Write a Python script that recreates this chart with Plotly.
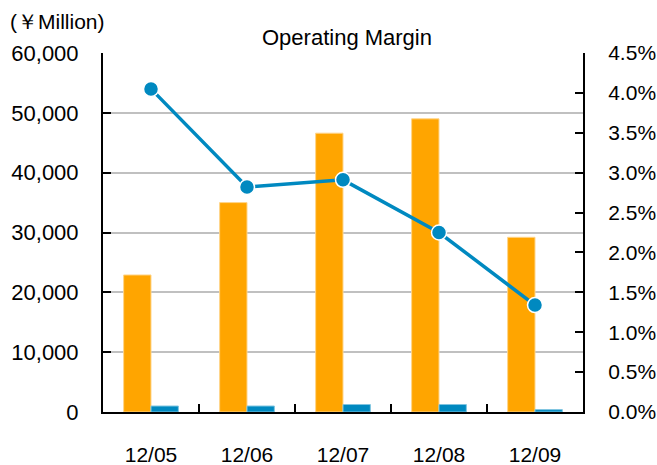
import plotly.graph_objects as go

categories = ["12/05", "12/06", "12/07", "12/08", "12/09"]
net_sales_like = [22900, 35000, 46600, 49000, 29200]
operating_income = [1000, 1000, 1250, 1250, 400]
operating_margin = [4.05, 2.82, 2.91, 2.25, 1.34]

left_ticks = [0, 10000, 20000, 30000, 40000, 50000, 60000]
right_ticks = [0, 0.5, 1.0, 1.5, 2.0, 2.5, 3.0, 3.5, 4.0, 4.5]
right_tick_text = ["0.0%", "0.5%", "1.0%", "1.5%", "2.0%", "2.5%", "3.0%", "3.5%", "4.0%", "4.5%"]

ORANGE = "#FFA500"
BLUE = "#0089C0"
FONT = "Liberation Sans, Arial, sans-serif"

L, R, T, B = 103, 74, 53, 53
W, H = 657, 465
pw = W - L - R
ph = H - T - B

fig = go.Figure()
fig.add_trace(go.Bar(x=categories, y=net_sales_like, marker=dict(color=ORANGE, line=dict(color="#FFD58A", width=1)),
                     showlegend=False))
fig.add_trace(go.Bar(x=categories, y=operating_income, marker=dict(color=BLUE, line=dict(color="#7FC5E0", width=1)),
                     showlegend=False))
fig.add_trace(go.Scatter(x=categories, y=operating_margin, yaxis="y2", mode="lines+markers",
                         line=dict(color=BLUE, width=3.5),
                         marker=dict(size=15, color=BLUE, line=dict(color="white", width=1.5)),
                         showlegend=False))

fig.update_layout(
    width=W, height=H,
    margin=dict(l=L, r=R, t=T, b=B),
    paper_bgcolor="white", plot_bgcolor="white",
    barmode="group", bargap=0.43, bargroupgap=0,
    font=dict(family=FONT, size=21, color="black"),
    xaxis=dict(type="category", tickson="boundaries", ticks="inside", ticklen=8, tickwidth=2,
               tickcolor="black", showline=True, linecolor="black", linewidth=2, automargin=False,
               showgrid=False, ticklabelstandoff=23, tickfont=dict(size=21)),
    yaxis=dict(range=[0, 60000], tickvals=left_ticks, tickformat=",d", ticks="inside", ticklen=8,
               tickwidth=2, tickcolor="black", showline=True, linecolor="black", linewidth=2,
               showgrid=True, gridcolor="#C0C0C0", gridwidth=2, zeroline=False, automargin=False,
               ticklabelstandoff=18, tickfont=dict(size=22)),
    yaxis2=dict(range=[0, 4.5], tickvals=right_ticks, ticktext=right_tick_text,
                overlaying="y", side="right", ticks="inside", ticklen=8, tickwidth=2,
                tickcolor="black", showline=True, linecolor="black", linewidth=2, automargin=False,
                showgrid=False, zeroline=False, ticklabelstandoff=19, tickfont=dict(size=21)),
    annotations=[
        dict(text="(￥Million)", x=(8 - L) / pw, y=(H - B - 22) / ph, xref="paper", yref="paper",
             showarrow=False, xanchor="left", yanchor="middle", font=dict(size=21)),
        dict(text="Operating Margin", x=(347 - L) / pw, y=(H - B - 37) / ph, xref="paper", yref="paper",
             showarrow=False, xanchor="center", yanchor="middle", font=dict(size=22)),
    ],
)

fig.write_html("out.html", config={"displayModeBar": False},
               post_script="document.body.style.margin='0';")
